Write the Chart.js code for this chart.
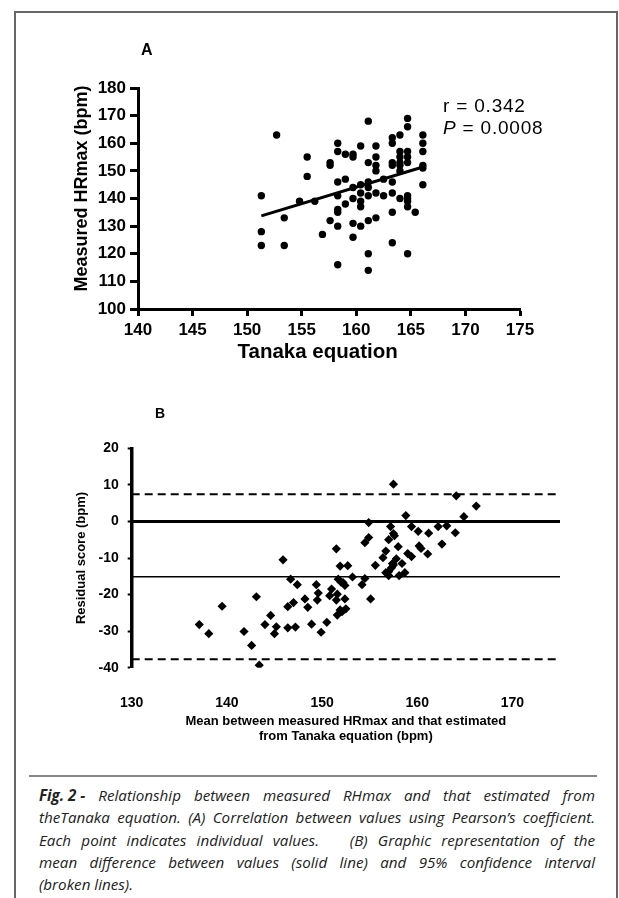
<!DOCTYPE html>
<html>
<head>
<meta charset="utf-8">
<script src="https://cdn.jsdelivr.net/npm/chart.js@4.4.1/dist/chart.umd.min.js"></script>
<style>
html,body{margin:0;padding:0;background:#fff;}
body{width:619px;height:898px;position:relative;overflow:hidden;font-family:"Liberation Sans",Arial,sans-serif;color:#000;}
#frame{position:absolute;left:14px;top:11px;width:604px;height:900px;box-sizing:border-box;border:solid #666;border-width:2px 2px 0 2px;}
canvas{position:absolute;left:0;}
#cA{top:0;}
#cB{top:380px;}
.lab{position:absolute;line-height:1;white-space:nowrap;}
#sep{position:absolute;left:29px;top:775px;width:568px;height:0;border-top:2px solid #888;}
#cap{position:absolute;left:39px;top:784px;width:556px;font-family:"Open Sans","Noto Sans",sans-serif;font-style:italic;font-size:15.2px;line-height:22.3px;color:#222;}
#cap .l{text-align:justify;text-align-last:justify;white-space:nowrap;}
#cap b{font-weight:bold;display:inline-block;}
</style>
</head>
<body>
<div id="frame"></div>
<canvas id="cA" width="619" height="380"></canvas>
<canvas id="cB" width="619" height="370"></canvas>
<div class="lab" style="left:141px;top:42px;font-size:16px;font-weight:bold;">A</div>
<div class="lab" style="left:443px;top:96px;font-size:19px;letter-spacing:0.8px;">r = 0.342</div>
<div class="lab" style="left:443px;top:118px;font-size:19px;letter-spacing:0.8px;"><i>P</i> = 0.0008</div>
<div class="lab" style="left:155px;top:406px;font-size:14px;font-weight:bold;">B</div>
<div id="sep"></div>
<div id="cap">
<div class="l"><b>Fig. 2 -</b> Relationship between measured RHmax and that estimated from</div>
<div class="l">theTanaka equation. (A) Correlation between values using Pearson’s coefficient.</div>
<div class="l">Each point indicates individual values. &nbsp; (B) Graphic representation of the</div>
<div class="l">mean difference between values (solid line) and 95% confidence interval</div>
<div>(broken lines).</div>
</div>
<script>
// ---------- Panel A data ----------
const tanakaEq = [151.3,151.3,151.3,152.7,153.4,153.4,154.8,155.5,155.5,156.2,156.9,
  157.6,157.6,157.6,
  158.3,158.3,158.3,158.3,158.3,158.3,158.3,158.3,
  159.0,159.0,159.0,
  159.7,159.7,159.7,159.7,159.7,159.7,
  160.4,160.4,160.4,160.4,160.4,160.4,
  161.1,161.1,161.1,161.1,161.1,161.1,161.1,161.1,
  161.8,161.8,161.8,161.8,161.8,161.8,
  162.5,162.5,
  163.3,163.3,163.3,163.3,163.3,163.3,163.3,163.3,
  164.0,164.0,164.0,164.0,164.0,164.0,164.0,
  164.7,164.7,164.7,164.7,164.7,164.7,164.7,164.7,164.7,164.7,
  165.4,
  166.1,166.1,166.1,166.1,166.1,166.1];
const measuredHR = [141,128,123,163,133,123,139,155,148,139,127,
  153,152,132,
  160,157,146,141,136,135,130,116,
  156,147,138,
  156,155,144,140,131,126,
  159,145,142,139,137,130,
  168,153,146,144,141,132,120,114,
  159,155,152,150,142,133,
  147,141,
  162,160,153,152,146,142,135,124,
  163,157,155,153,152,150,140,
  169,166,157,155,153,141,140,139,137,120,
  135,
  163,160,157,152,151,145];
const fitX = [151.3, 166.1];
const fitY = [133.7, 151.4];
const xTicksA = [140,145,150,155,160,165,170,175];
const yTicksA = [100,110,120,130,140,150,160,170,180];

// ---------- Panel B data ----------
const meanHR = [137.1,138.1,139.5,141.8,142.6,143.1,143.4,144.0,144.6,145.0,145.2,145.9,
  146.4,146.4,146.7,147.0,147.2,147.4,148.2,148.5,148.9,149.4,149.5,149.6,149.9,150.5,
  150.8,151.0,151.5,151.5,151.6,151.6,151.7,151.9,151.9,152.0,152.1,152.2,152.4,152.4,
  152.5,152.7,153.2,154.2,154.5,154.5,154.9,154.9,155.1,155.6,156.4,156.7,156.7,157.0,
  157.0,157.0,157.2,157.3,157.4,157.5,157.5,157.5,157.6,157.8,158.0,158.1,158.4,158.7,
  158.8,159.0,159.4,159.4,160.1,160.2,160.4,161.1,161.2,162.2,162.6,163.1,164.0,164.1,
  164.9,166.2];
const residual = [-28.2,-30.7,-23.2,-30.1,-33.9,-20.6,-39.3,-28.2,-25.7,-30.7,-28.8,-10.5,
  -23.3,-29.1,-15.8,-22.2,-28.9,-17.3,-21.2,-23.5,-28.1,-17.3,-21.5,-19.6,-30.3,-27.6,
  -20.3,-18.5,-7.5,-21.5,-19.9,-25.6,-15.8,-12.2,-24.2,-16.6,-24.7,-16.7,-17.5,-21.2,
  -23.9,-12.1,-15.2,-17.3,-5.8,-15.6,-0.3,-4.4,-21.2,-12.0,-9.9,-14.0,-8.1,-13.7,
  -5.0,-14.8,-1.4,-12.7,-11.5,-3.3,10.2,-11.9,-3.9,-10.2,-6.9,-14.8,-11.5,-14.0,
  1.6,-8.8,-1.4,-9.6,-2.7,-6.7,-7.4,-8.9,-3.2,-1.4,-6.2,-1.2,-3.1,7.0,
  1.3,4.2];
const meanDiff = -15.1;
const upperLimit = 7.4;
const lowerLimit = -37.7;
const zeroLine = 0;
const xRangeB = [130, 175];
const xTicksB = [130,140,150,160,170];
const yTicksB = [-40,-30,-20,-10,0,10,20];

Chart.defaults.font.family = '"Liberation Sans", Arial, sans-serif';
Chart.defaults.color = '#000';

const boldFont = (s) => ({family:'"Liberation Sans", Arial, sans-serif', size:s, weight:'bold'});

// ---------- Chart A ----------
new Chart(document.getElementById('cA'), {
  type: 'scatter',
  data: {
    datasets: [
      {
        data: tanakaEq.map((x,i)=>({x, y: measuredHR[i]})),
        pointRadius: 3.7, pointHoverRadius: 3.7,
        backgroundColor: '#000', borderColor: '#000', borderWidth: 0
      },
      {
        data: fitX.map((x,i)=>({x, y: fitY[i]})),
        showLine: true, pointRadius: 0, borderColor: '#000', borderWidth: 3
      }
    ]
  },
  options: {
    responsive: false, animation: false, devicePixelRatio: 1,
    plugins: {legend:{display:false}, tooltip:{enabled:false}},
    layout: {padding:{left:0, top:88, right:99, bottom:11}},
    scales: {
      x: {
        type:'linear', min:140, max:175,
        afterBuildTicks: s => { s.ticks = xTicksA.map(v=>({value:v})); },
        afterFit: s => { s.height = 60; s.paddingLeft = 0; s.paddingRight = 0; },
        border:{display:true, width:3, color:'#000'},
        grid:{display:true, drawOnChartArea:false, drawTicks:true, tickLength:7, tickWidth:3, tickColor:'#000'},
        ticks:{color:'#000', font:boldFont(17), padding:4, maxRotation:0, autoSkip:false},
        title:{display:true, text:'Tanaka equation    ', color:'#000', font:boldFont(20.5), padding:{top:0, bottom:4}}
      },
      y: {
        type:'linear', min:100, max:180,
        afterBuildTicks: s => { s.ticks = yTicksA.map(v=>({value:v})); },
        afterFit: s => { s.width = 138; s.paddingTop = 0; s.paddingBottom = 0; },
        border:{display:true, width:3, color:'#000'},
        grid:{display:true, drawOnChartArea:false, drawTicks:true, tickLength:8, tickWidth:3, tickColor:'#000'},
        ticks:{color:'#000', font:boldFont(17), padding:4, autoSkip:false},
        title:{display:true, text:'    Measured HRmax (bpm)', color:'#000', font:boldFont(18), padding:{top:71, bottom:0}}
      }
    }
  }
});

// ---------- Chart B ----------
const hLine = (v, w, dash) => ({
  data: xRangeB.map(x=>({x, y:v})),
  showLine:true, pointRadius:0, borderColor:'#000', borderWidth:w, borderDash:dash
});

new Chart(document.getElementById('cB'), {
  type: 'scatter',
  data: {
    datasets: [
      {
        data: meanHR.map((x,i)=>({x, y: residual[i]})),
        pointStyle:'rectRot', pointRadius:4.6, pointHoverRadius:4.6,
        backgroundColor:'#000', borderColor:'#000', borderWidth:0
      },
      hLine(upperLimit, 2, [8,5]),
      hLine(zeroLine, 3, []),
      hLine(meanDiff, 1.5, []),
      hLine(lowerLimit, 2, [8,5])
    ]
  },
  options: {
    responsive:false, animation:false, devicePixelRatio:1,
    plugins:{legend:{display:false}, tooltip:{enabled:false}},
    layout:{padding:{left:0, top:68.3, right:59, bottom:0}},
    scales:{
      x:{
        type:'linear', min:xRangeB[0], max:xRangeB[1],
        afterBuildTicks: s => { s.ticks = xTicksB.map(v=>({value:v})); },
        afterFit: s => { s.height = 82.3; s.paddingLeft = 0; s.paddingRight = 0; },
        border:{display:false},
        grid:{display:false},
        ticks:{color:'#000', font:boldFont(14), padding:19, maxRotation:0, autoSkip:false},
        title:{display:true, text:['Mean between measured HRmax and that estimated','from Tanaka equation (bpm)'],
               color:'#000', font:{family:'"Liberation Sans", Arial, sans-serif', size:13, weight:'bold', lineHeight:15/13},
               padding:{top:0, bottom:6}}
      },
      y:{
        type:'linear', min:-40, max:20,
        afterBuildTicks: s => { s.ticks = yTicksB.map(v=>({value:v})); },
        afterFit: s => { s.width = 131.7; s.paddingTop = 0; s.paddingBottom = 0; },
        border:{display:true, width:3.5, color:'#000'},
        grid:{display:true, drawOnChartArea:false, drawTicks:true, tickLength:4, tickWidth:2, tickColor:'#000'},
        ticks:{color:'#000', font:boldFont(14), padding:9, autoSkip:false},
        title:{display:true, text:'Residual score (bpm)', color:'#000', font:boldFont(13), padding:{top:74, bottom:0}}
      }
    }
  }
});
</script>
</body>
</html>
